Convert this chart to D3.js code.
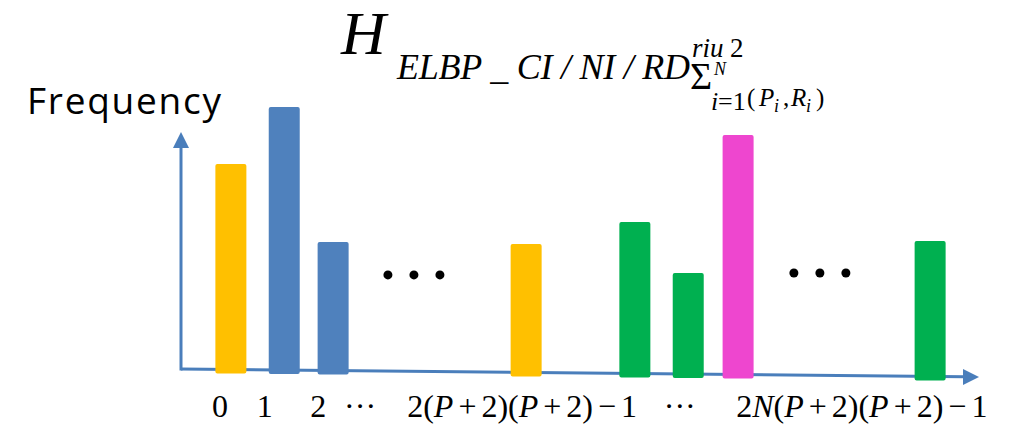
<!DOCTYPE html>
<html>
<head>
<meta charset="utf-8">
<script src="https://cdn.jsdelivr.net/npm/d3@7"></script>
<style>
  html, body { margin: 0; padding: 0; background: #fff; }
  svg { display: block; }
  .serif { font-family: "Liberation Serif", "Times New Roman", serif; }
</style>
</head>
<body>
<svg id="chart"></svg>
<script>
/* =======================
   HISTOGRAM SKETCH
   ======================= */

// bins are positions along the (abstract) pattern axis
const barBins = [1.0, 2.07, 3.05, 6.92, 9.10, 10.17, 11.17, 15.02];
const barFreq = [86.5, 110.5, 53.6, 52.7, 62.0, 40.5, 98.7, 54.0];
const barGroup = ["g1", "g2", "g2", "g1", "g3", "g3", "g4", "g3"];

const groupNames = ["g1", "g2", "g3", "g4"];
const groupColors = ["#FFC000", "#4F81BD", "#00B050", "#EE46CF"];

// "..." markers between bars
const gapBins = [4.67, 12.81];
const gapFreq = [39.7, 40.5];

const tickBins = [0.78, 1.68, 2.75, 3.59, 6.84, 10.0, 13.65];
const tickLabels = ["0", "1", "2", "\u00B7\u00B7\u00B7", "2(P + 2)(P + 2) \u2212 1", "\u00B7\u00B7\u00B7", "2N(P + 2)(P + 2) \u2212 1"];

const W = 1013, H = 425;
const axisColor = "#4A7EBB";

const svg = d3.select("#chart").attr("width", W).attr("height", H);
svg.append("rect").attr("width", W).attr("height", H).attr("fill", "#fff");

const xScale = d3.scaleLinear().domain([0, 16]).range([181, 979]);
const yScale = d3.scaleLinear().domain([0, 100]).range([369, 132]);
const color = d3.scaleOrdinal().domain(groupNames).range(groupColors);

// the x axis in the drawing drops a few px towards the right
const drop = 8;
const baseAt = x => yScale(0) + drop * (x - xScale(0)) / (xScale(16) - xScale(0));

/* Axes */
const x0 = xScale(0), x1 = xScale(16);
svg.append("line")
    .attr("x1", x0).attr("y1", baseAt(x0))
    .attr("x2", x1 - 14).attr("y2", baseAt(x1 - 14))
    .attr("stroke", axisColor).attr("stroke-width", 3);
svg.append("path")
    .attr("d", `M${x1},${baseAt(x1)} L${x1 - 16},${baseAt(x1) - 8} L${x1 - 16},${baseAt(x1) + 8} Z`)
    .attr("fill", axisColor);

const yTop = yScale(100);
svg.append("line")
    .attr("x1", x0).attr("y1", baseAt(x0) + 1.5)
    .attr("x2", x0).attr("y2", yTop + 14)
    .attr("stroke", axisColor).attr("stroke-width", 3);
svg.append("path")
    .attr("d", `M${x0},${yTop} L${x0 - 8},${yTop + 16} L${x0 + 8},${yTop + 16} Z`)
    .attr("fill", axisColor);

/* Bars */
const barW = 31;
const bars = barBins.map((b, i) => ({ bin: b, freq: barFreq[i], group: barGroup[i] }));
svg.append("g").selectAll("rect")
    .data(bars)
    .join("rect")
    .attr("x", d => xScale(d.bin) - barW / 2)
    .attr("y", d => yScale(d.freq))
    .attr("width", barW)
    .attr("height", d => baseAt(xScale(d.bin)) + 4 - yScale(d.freq))
    .attr("rx", 2)
    .attr("fill", d => color(d.group));

/* Ellipsis dots */
const dots = [];
gapBins.forEach((b, i) => [-1, 0, 1].forEach(k => dots.push({ bin: b, k, freq: gapFreq[i] })));
svg.append("g").selectAll("circle")
    .data(dots)
    .join("circle")
    .attr("cx", d => xScale(d.bin) + d.k * 26)
    .attr("cy", d => yScale(d.freq))
    .attr("r", 4.5)
    .attr("fill", "#000");

/* Tick labels (letters italic) */
const tl = svg.append("g").attr("class", "serif")
    .selectAll("text")
    .data(tickBins.map((b, i) => ({ bin: b, label: tickLabels[i] })))
    .join("text")
    .attr("x", d => xScale(d.bin))
    .attr("y", 417)
    .attr("text-anchor", "middle")
    .attr("font-size", 32)
    .attr("word-spacing", -3)
    .attr("fill", "#000");
tl.each(function (d) {
    const t = d3.select(this);
    d.label.split(/([A-Z])/).filter(s => s.length).forEach(s => {
        t.append("tspan")
            .attr("font-style", /^[A-Z]$/.test(s) ? "italic" : null)
            .text(s);
    });
});

/* Y label */
svg.append("text")
    .attr("x", 27).attr("y", 114)
    .attr("font-family", "'Open Sans', sans-serif")
    .attr("font-size", 37)
    .attr("textLength", 194)
    .attr("lengthAdjust", "spacing")
    .attr("fill", "#000")
    .text("Frequency");

/* Title formula, one text element with placed pieces */
const title = svg.append("g").attr("class", "serif").attr("fill", "#000");
title.append("text").attr("x", 341).attr("y", 54)
    .attr("font-size", 62).attr("font-style", "italic").text("H");
title.append("text").attr("x", 397).attr("y", 79)
    .attr("font-size", 36).attr("font-style", "italic")
    .attr("textLength", 293).attr("lengthAdjust", "spacing")
    .text("ELBP _ CI / NI / RD");

const idx = title.append("text");
const piece = (x, y, size, italic, s) =>
    idx.append("tspan").attr("x", x).attr("y", y).attr("font-size", size)
        .attr("font-style", italic ? "italic" : null).text(s);
piece(692, 57, 27, true, "riu");
piece(730, 57, 27, false, "2");
piece(690, 89, 38, false, "\u03A3");
piece(714, 75, 18, true, "N");
piece(711, 110, 26, true, "i");
piece(718, 110, 26, false, "=1");
piece(747, 106, 25, false, "(");
piece(759, 106, 25, true, "P");
piece(774, 112, 18, true, "i");
piece(783, 106, 25, false, ",");
piece(791, 106, 25, true, "R");
piece(806, 112, 18, true, "i");
piece(816, 106, 25, false, ")");
</script>
</body>
</html>
